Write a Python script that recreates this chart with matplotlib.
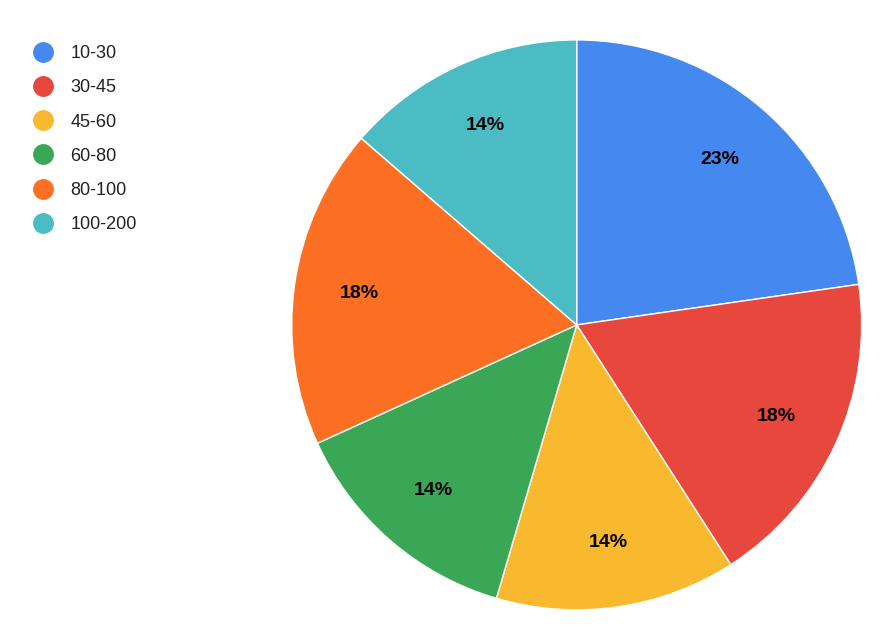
import matplotlib
matplotlib.use("Agg")
import matplotlib.pyplot as plt
from matplotlib.lines import Line2D

plt.rcParams['font.family'] = ['Liberation Sans', 'DejaVu Sans']

categories = ["10-30", "30-45", "45-60", "60-80", "80-100", "100-200"]
counts = [5, 4, 3, 3, 4, 3]
colors = ["#4589f0", "#e8473e", "#f9b92e", "#3aa757", "#fd6f22", "#4bbcc4"]

fig = plt.figure(figsize=(8.92, 6.44), dpi=100)
ax = fig.add_axes([0.327, 0.053, 0.639, 0.885])
wedges, texts, autotexts = ax.pie(counts, colors=colors, startangle=90, counterclock=False,
                                  autopct=lambda p: f"{p:.0f}%", pctdistance=0.77,
                                  wedgeprops=dict(edgecolor="white", linewidth=1),
                                  textprops=dict(fontsize=14, fontweight="bold", color="black"))
ax.set_xlim(-1.0, 1.0)
ax.set_ylim(-1.0, 1.0)
ax.set_aspect("equal")

handles = [Line2D([], [], marker="o", linestyle="", markersize=14, markerfacecolor=c,
                  markeredgecolor=c) for c in colors]
fig.legend(handles, categories, loc="upper left", bbox_to_anchor=(0.01, 0.955), frameon=False,
           fontsize=13, labelspacing=0.95, handletextpad=0.5, labelcolor="#222222")
fig.savefig("out.png", dpi=100)
